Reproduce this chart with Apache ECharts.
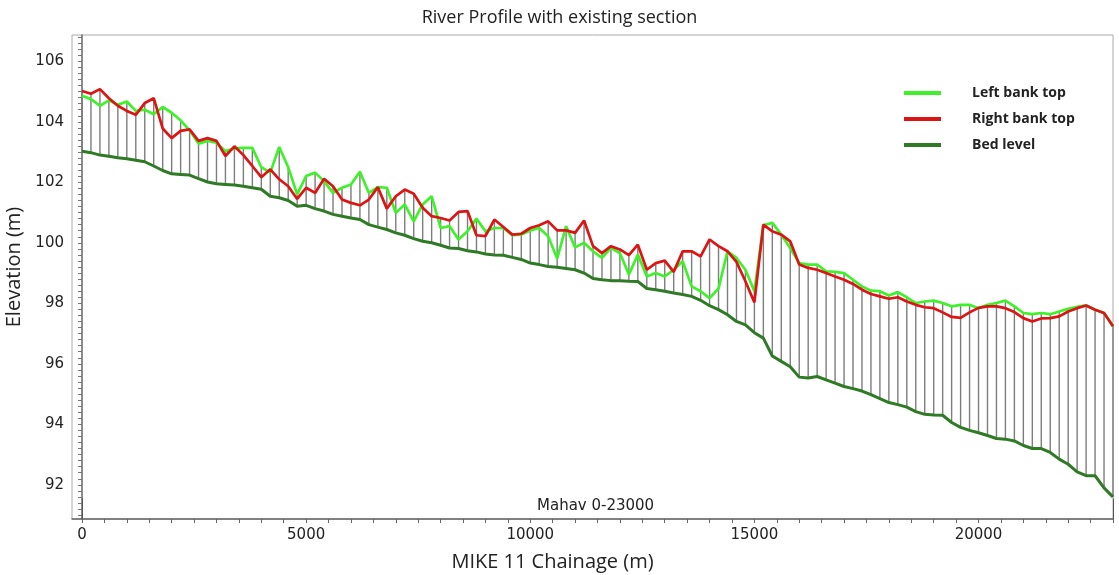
<!DOCTYPE html>
<html>
<head>
<meta charset="utf-8">
<script src="https://cdn.jsdelivr.net/npm/echarts@6/dist/echarts.min.js"></script>
<style>html,body{margin:0;padding:0;background:#fff}#c{width:1119px;height:575px}</style>
</head>
<body>
<div id="c"></div>
<script>
// Chainage of each cross-section (m)
const chainage = [0,200,400,600,800,1000,1200,1400,1600,1800,2000,2200,2400,2600,2800,3000,3200,3400,3600,3800,4000,4200,4400,4600,4800,5000,5200,5400,5600,5800,6000,6200,6400,6600,6800,7000,7200,7400,7600,7800,8000,8200,8400,8600,8800,9000,9200,9400,9600,9800,10000,10200,10400,10600,10800,11000,11200,11400,11600,11800,12000,12200,12400,12600,12800,13000,13200,13400,13600,13800,14000,14200,14400,14600,14800,15000,15200,15400,15600,15800,16000,16200,16400,16600,16800,17000,17200,17400,17600,17800,18000,18200,18400,18600,18800,19000,19200,19400,19600,19800,20000,20200,20400,20600,20800,21000,21200,21400,21600,21800,22000,22200,22400,22600,22800,23000];

const leftBankTop = [104.86,104.75,104.53,104.71,104.56,104.67,104.36,104.40,104.25,104.49,104.30,104.05,103.72,103.28,103.37,103.31,103.03,103.12,103.14,103.14,102.50,102.32,103.17,102.50,101.60,102.21,102.32,102.04,101.65,101.82,101.93,102.35,101.65,101.84,101.82,100.99,101.27,100.71,101.27,101.54,100.49,100.55,100.11,100.38,100.80,100.38,100.49,100.49,100.25,100.27,100.41,100.49,100.22,99.48,100.55,99.85,100.00,99.72,99.50,99.83,99.66,98.95,99.61,98.89,99.00,98.89,99.11,99.39,98.56,98.40,98.17,98.49,99.72,99.50,99.11,98.40,100.58,100.66,100.27,99.83,99.33,99.28,99.28,99.06,99.04,99.00,98.78,98.56,98.42,98.40,98.26,98.37,98.20,98.01,98.06,98.09,98.01,97.90,97.95,97.95,97.84,97.95,98.01,98.09,97.90,97.68,97.64,97.68,97.64,97.73,97.82,97.88,97.93,97.79,97.68,97.24];

const rightBankTop = [105.02,104.93,105.08,104.78,104.53,104.36,104.23,104.62,104.78,103.78,103.46,103.70,103.75,103.37,103.46,103.37,102.87,103.19,102.90,102.54,102.17,102.43,102.10,101.87,101.45,101.82,101.65,102.12,101.87,101.43,101.32,101.24,101.43,101.84,101.13,101.54,101.76,101.62,101.16,100.88,100.82,100.74,101.02,101.05,100.25,100.22,100.77,100.52,100.27,100.30,100.49,100.58,100.71,100.41,100.41,100.33,100.74,99.89,99.66,99.89,99.78,99.59,99.94,99.11,99.33,99.41,99.04,99.72,99.72,99.55,100.11,99.89,99.72,99.37,98.73,98.03,100.60,100.38,100.27,100.05,99.28,99.17,99.11,99.00,98.89,98.78,98.64,98.45,98.31,98.23,98.15,98.20,98.06,97.95,97.87,97.84,97.70,97.55,97.52,97.70,97.85,97.90,97.90,97.84,97.71,97.51,97.40,97.50,97.51,97.57,97.73,97.84,97.93,97.79,97.68,97.24];

const bedLevel = [103.03,102.98,102.90,102.86,102.81,102.78,102.73,102.68,102.54,102.39,102.28,102.26,102.24,102.12,102.01,101.95,101.93,101.91,101.87,101.82,101.77,101.54,101.49,101.40,101.21,101.24,101.13,101.05,100.94,100.88,100.82,100.77,100.60,100.52,100.44,100.33,100.25,100.14,100.05,100.00,99.92,99.83,99.81,99.74,99.70,99.63,99.60,99.59,99.52,99.45,99.33,99.28,99.22,99.19,99.15,99.11,99.00,98.82,98.78,98.75,98.75,98.73,98.72,98.49,98.45,98.40,98.34,98.29,98.23,98.10,97.92,97.79,97.62,97.40,97.29,97.03,96.85,96.26,96.08,95.90,95.56,95.53,95.58,95.47,95.36,95.25,95.18,95.10,94.98,94.85,94.72,94.65,94.57,94.42,94.33,94.31,94.30,94.06,93.90,93.80,93.72,93.63,93.53,93.51,93.45,93.30,93.20,93.20,93.07,92.85,92.68,92.43,92.30,92.30,91.90,91.60];

const xTickLabels = [0, 5000, 10000, 15000, 20000];
const yTickLabels = [92, 94, 96, 98, 100, 102, 104, 106];
const branchName = 'Mahav 0-23000';
const branchEnds = [0, 23000];

const xMinorTicks = [];
for (let v = 0; v <= 23000; v += 500) xMinorTicks.push(v);
const yMinorTicks = [];
for (let k = 910; k <= 1068; k += 2) yMinorTicks.push(k / 10);

const sections = chainage.map((c, i) => [c, bedLevel[i], Math.max(leftBankTop[i], rightBankTop[i])]);
const pair = arr => chainage.map((c, i) => [c, arr[i]]);

const chart = echarts.init(document.getElementById('c'));
chart.setOption({
  animation: false,
  backgroundColor: '#ffffff',
  title: {
    text: 'River Profile with existing section',
    left: 'center', top: 4,
    textStyle: { fontFamily: 'Open Sans', fontSize: 18, fontWeight: 'normal', color: '#222' }
  },
  legend: {
    orient: 'vertical', left: 899, top: 80,
    icon: 'rect', itemWidth: 37, itemHeight: 4, itemGap: 10,
    data: ['Left bank top', 'Right bank top', 'Bed level'],
    textStyle: { fontFamily: 'Open Sans', fontSize: 14, fontWeight: 'bold', color: '#222', lineHeight: 16, padding: [0, 0, 0, 26] }
  },
  grid: { left: 72, right: 6, top: 35, bottom: 56, show: true, borderColor: '#aaaaaa', borderWidth: 1,
          containLabel: false, outerBoundsMode: 'none' },
  xAxis: {
    type: 'value', min: -223, max: 23000,
    name: 'MIKE 11 Chainage (m)', nameLocation: 'middle', nameGap: 33,
    nameTextStyle: { fontFamily: 'Open Sans', fontSize: 20, color: '#222', padding: [0, 80, 0, 0] },
    axisLine: { show: true, lineStyle: { color: '#666', width: 1.5 } },
    axisTick: { show: true, length: 4, customValues: xMinorTicks, lineStyle: { color: '#666' } },
    axisLabel: { customValues: xTickLabels, margin: 9, fontFamily: 'DejaVu Sans', fontSize: 15, color: '#222',
      formatter: v => String(v) },
    splitLine: { show: false }
  },
  yAxis: {
    type: 'value', min: 90.87, max: 106.87,
    name: 'Elevation (m)', nameLocation: 'middle', nameGap: 42,
    nameTextStyle: { fontFamily: 'Open Sans', fontSize: 20, color: '#222', padding: [0, 0, 0, 20] },
    axisLine: { show: true, lineStyle: { color: '#666', width: 1.5 } },
    axisTick: { show: true, length: 4, customValues: yMinorTicks, lineStyle: { color: '#777' } },
    axisLabel: { customValues: yTickLabels, margin: 8, fontFamily: 'DejaVu Sans', fontSize: 15, color: '#222',
      formatter: v => String(v) },
    splitLine: { show: false }
  },
  graphic: [{
    type: 'text', left: 537, top: 499,
    style: { text: branchName, fontFamily: 'DejaVu Sans', fontSize: 15, fill: '#222' }
  }],
  series: [
    {
      name: 'sections', type: 'custom', data: sections, encode: { x: 0, y: [1, 2] },
      renderItem: function (params, api) {
        const p1 = api.coord([api.value(0), api.value(1)]);
        const p2 = api.coord([api.value(0), api.value(2)]);
        return { type: 'line', shape: { x1: p1[0], y1: p1[1], x2: p2[0], y2: p2[1] },
                 style: { stroke: '#7d7d7d', lineWidth: 1.4 } };
      },
      z: 1, silent: true
    },
    {
      name: 'Bed level', type: 'line', data: pair(bedLevel), symbol: 'none',
      lineStyle: { color: '#2e7a25', width: 3 }, itemStyle: { color: '#2e7a25' }, z: 3,
      markLine: {
        silent: true, symbol: 'none', label: { show: false },
        lineStyle: { color: '#555', width: 1, type: 'solid' },
        data: branchEnds.map(v => [{ coord: [v, 90.87] }, { coord: [v, 91.55] }])
      }
    },
    {
      name: 'Left bank top', type: 'line', data: pair(leftBankTop), symbol: 'none',
      lineStyle: { color: '#3ef22a', width: 2.7 }, itemStyle: { color: '#3ef22a' }, z: 4
    },
    {
      name: 'Right bank top', type: 'line', data: pair(rightBankTop), symbol: 'none',
      lineStyle: { color: '#dd1414', width: 2.7 }, itemStyle: { color: '#dd1414' }, z: 5
    }
  ]
});
</script>
</body>
</html>
